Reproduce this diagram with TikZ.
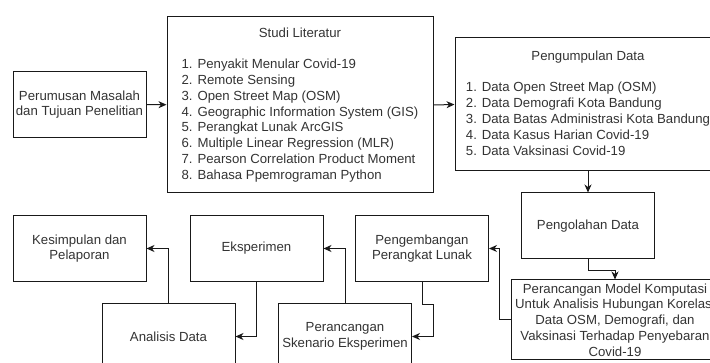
\documentclass[tikz,border=0pt]{standalone}
\usepackage{fontspec}
\setmainfont{Liberation Sans}
\usetikzlibrary{arrows.meta}
\begin{document}
\begin{tikzpicture}[x=1pt,y=-1pt,
    proses/.style={draw=black!90, line width=1pt, text=black!80, inner sep=0pt,
      minimum width=133pt, minimum height=66pt, align=center,
      font=\fontsize{13.2}{15.8}\selectfont},
    panah/.style={draw=black!90, line width=1pt,
      -{Stealth[length=8pt,width=7pt,inset=2.5pt]}}]
    \useasboundingbox (0,0) rectangle (710,363);
    \node[proses] (P1) at (79.5,104.5) {Perumusan Masalah\\dan Tujuan Penelitian};
    \node[proses, minimum width=266pt, minimum height=176pt] (P2) at (300,105) {%
      \begin{tabular}{@{}l@{}}
        \multicolumn{1}{@{}c@{}}{Studi Literatur}\\
        \\
        1. Penyakit Menular Covid-19\\
        2. Remote Sensing\\
        3. Open Street Map (OSM)\\
        4. Geographic Information System (GIS)\\
        5. Perangkat Lunak ArcGIS\\
        6. Multiple Linear Regression (MLR)\\
        7. Pearson Correlation Product Moment\\
        8. Bahasa Ppemrograman Python
      \end{tabular}};
    \node[proses, minimum width=266pt, minimum height=133pt] (P3) at (588,104.5) {%
      \begin{tabular}{@{}l@{}}
        \multicolumn{1}{@{}c@{}}{Pengumpulan Data}\\
        \\
        1. Data Open Street Map (OSM)\\
        2. Data Demografi Kota Bandung\\
        3. Data Batas Administrasi Kota Bandung\\
        4. Data Kasus Harian Covid-19\\
        5. Data Vaksinasi Covid-19
      \end{tabular}};
    \node[proses] (P4) at (588,226) {Pengolahan Data};
    \node[proses, minimum width=208pt, minimum height=80pt] (P5) at (615,320) {Perancangan Model Komputasi\\Untuk Analisis Hubungan Korelasi\\Data OSM, Demografi, dan\\Vaksinasi Terhadap Penyebaran\\Covid-19};
    \node[proses] (P6) at (422,248.5) {Pengembangan\\Perangkat Lunak};
    \node[proses] (P7) at (345,336.5) {Perancangan\\Skenario Eksperimen};
    \node[proses] (P8) at (256.5,248.5) {Eksperimen};
    \node[proses] (P9) at (168.5,336.5) {Analisis Data};
    \node[proses] (P10) at (79.5,248.5) {Kesimpulan dan\\Pelaporan};
    \draw[panah] (P1) -- (P2);
    \draw[panah] (P2.east) -- (P3.west);
    \draw[panah] (P3) -- (P4);
    \draw[panah] (P4.south) -- ++(0,11) -| (P5.north);
    \draw[panah] (P5.west) -- ++(-11,0) |- (P6.east);
    \draw[panah] (P6.south) -- ++(0,23) -- ++(11,0) |- (P7.east);
    \draw[panah] (P7.north) |- (P8.east);
    \draw[panah] (P8.south) |- (P9.east);
    \draw[panah] (P9.north) |- (P10.east);
  \end{tikzpicture}
\end{document}
